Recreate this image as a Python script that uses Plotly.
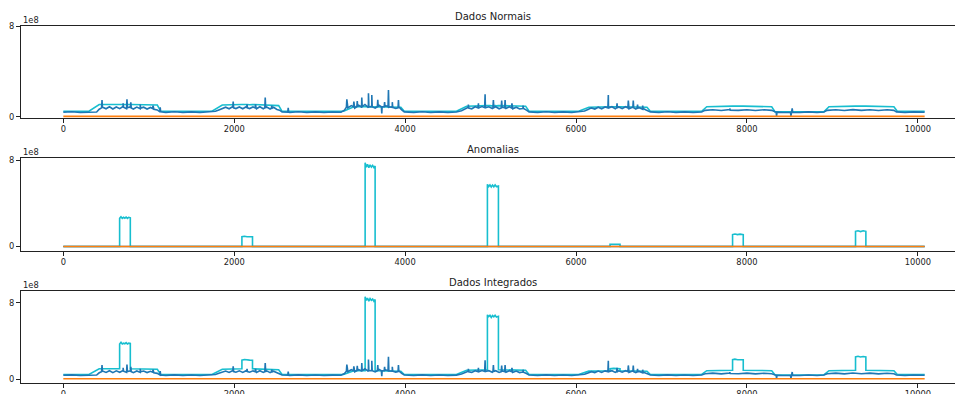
import plotly.graph_objects as go

# ---------------- data (values in units of 1e8) ----------------
cyan_x = [0, 300, 420,
          659, 659, 675, 690, 705, 720, 735, 750, 765, 784, 784,
          1100, 1140, 1740, 1860,
          2090, 2090, 2120, 2150, 2180, 2214, 2214,
          2520, 2560, 3280, 3400,
          3532, 3532, 3545, 3560, 3575, 3590, 3605, 3620, 3635, 3649, 3649,
          3950, 3990, 4600, 4720,
          4963, 4963, 4978, 4993, 5008, 5023, 5038, 5053, 5068, 5092, 5092,
          5410, 5450, 6030, 6150,
          6398, 6398, 6440, 6480, 6515, 6515,
          6830, 6870, 7470, 7530,
          7832, 7832, 7860, 7890, 7920, 7957, 7957,
          8290, 8330, 8900, 8960,
          9271, 9271, 9300, 9330, 9360, 9392, 9392,
          9720, 9760, 10080]

cyan_normal = [0.5, 0.5, 1.1,
               1.1, 1.1, 1.12, 1.1, 1.08, 1.1, 1.12, 1.1, 1.08, 1.1, 1.1,
               1.05, 0.5, 0.5, 1.05,
               1.1, 1.1, 1.12, 1.1, 1.08, 1.1, 1.1,
               1.0, 0.5, 0.5, 0.9,
               0.9, 0.9, 0.92, 0.9, 0.88, 0.9, 0.92, 0.9, 0.88, 0.9, 0.9,
               0.85, 0.5, 0.5, 0.95,
               1.0, 1.0, 1.02, 1.0, 0.98, 1.0, 1.02, 1.0, 0.98, 1.0, 1.0,
               0.95, 0.5, 0.5, 0.85,
               0.9, 0.9, 0.92, 0.9, 0.9, 0.9,
               0.85, 0.5, 0.5, 0.9,
               0.95, 0.95, 0.96, 0.95, 0.94, 0.95, 0.95,
               0.9, 0.45, 0.45, 0.9,
               0.95, 0.95, 0.96, 0.95, 0.94, 0.95, 0.95,
               0.9, 0.5, 0.5]

cyan_anomaly = [0, 0, 0,
                0, 2.6, 2.75, 2.6, 2.7, 2.62, 2.72, 2.6, 2.7, 2.65, 0,
                0, 0, 0, 0,
                0, 0.9, 0.95, 0.9, 0.93, 0.9, 0,
                0, 0, 0, 0,
                0, 7.75, 7.35, 7.6, 7.3, 7.55, 7.35, 7.5, 7.3, 7.45, 0,
                0, 0, 0, 0,
                0, 5.75, 5.55, 5.7, 5.5, 5.68, 5.52, 5.7, 5.55, 5.6, 0,
                0, 0, 0, 0,
                0, 0.2, 0.22, 0.2, 0.2, 0,
                0, 0, 0, 0,
                0, 1.1, 1.15, 1.1, 1.14, 1.1, 0,
                0, 0, 0, 0,
                0, 1.4, 1.45, 1.38, 1.45, 1.4, 0,
                0, 0, 0]

# blue series: slowly varying level (with its visible noise band) ...
blue_base_x = [0, 100, 200, 300, 390,
               420, 460, 500, 540, 580, 620, 660, 700, 740, 780, 820, 860, 900, 940, 980, 1020, 1060, 1100,
               1130, 1200, 1300, 1400, 1500, 1600, 1700,
               1780, 1820, 1860, 1900, 1940, 1980, 2020, 2060, 2100, 2140, 2180, 2220, 2260, 2300, 2340,
               2380, 2420, 2460, 2500, 2530,
               2560, 2650, 2750, 2850, 2950, 3050, 3150, 3250,
               3290, 3330, 3370, 3410, 3450, 3490, 3530, 3570, 3610, 3650, 3690, 3730, 3770, 3810, 3850,
               3890, 3930, 3960,
               3990, 4100, 4200, 4300, 4400, 4500, 4600,
               4660, 4700, 4740, 4780, 4820, 4860, 4900, 4940, 4980, 5020, 5060, 5100, 5140, 5180, 5220,
               5260, 5300, 5340, 5380, 5420,
               5450, 5550, 5650, 5750, 5850, 5950, 6050,
               6100, 6140, 6180, 6220, 6260, 6300, 6340, 6380, 6420, 6460, 6500, 6540, 6580, 6620, 6660,
               6700, 6740, 6780, 6820, 6845,
               6870, 6970, 7070, 7170, 7270, 7370, 7470,
               7510, 7600, 7700, 7800, 7900, 8000, 8100, 8200, 8290,
               8320, 8420, 8520, 8620, 8720, 8820, 8900,
               8940, 9040, 9140, 9240, 9340, 9440, 9540, 9640, 9720,
               9750, 9850, 9950, 10080]
blue_base_y = [0.42, 0.46, 0.39, 0.45, 0.44,
               0.68, 0.86, 0.72, 0.9, 0.7, 0.88, 0.73, 0.92, 0.72, 0.9, 0.7, 0.87, 0.72, 0.86, 0.7, 0.84, 0.68, 0.62,
               0.45, 0.4, 0.46, 0.39, 0.45, 0.4, 0.44,
               0.5, 0.62, 0.74, 0.86, 0.72, 0.9, 0.74, 0.88, 0.72, 0.9, 0.74, 0.88, 0.72, 0.9, 0.72,
               0.88, 0.7, 0.85, 0.66, 0.6,
               0.45, 0.4, 0.46, 0.39, 0.45, 0.4, 0.44, 0.42,
               0.6, 0.8, 1.0, 0.78, 1.05, 0.8, 1.1, 0.82, 1.08, 0.78, 1.05, 0.8, 1.0, 0.78, 0.98,
               0.75, 0.85, 0.62,
               0.45, 0.4, 0.46, 0.39, 0.45, 0.4, 0.44,
               0.55, 0.7, 0.85, 0.72, 0.9, 0.74, 0.92, 0.75, 0.9, 0.74, 0.9, 0.72, 0.88, 0.74, 0.9,
               0.72, 0.86, 0.7, 0.8, 0.6,
               0.45, 0.4, 0.46, 0.39, 0.45, 0.4, 0.44,
               0.52, 0.66, 0.8, 0.7, 0.86, 0.72, 0.88, 0.74, 0.9, 0.72, 0.88, 0.74, 0.9, 0.72, 0.86,
               0.7, 0.82, 0.68, 0.62, 0.55,
               0.45, 0.4, 0.46, 0.39, 0.45, 0.4, 0.44,
               0.58, 0.64, 0.57, 0.65, 0.58, 0.64, 0.57, 0.63, 0.58,
               0.45, 0.4, 0.44, 0.39, 0.45, 0.4, 0.44,
               0.58, 0.64, 0.57, 0.65, 0.58, 0.64, 0.57, 0.63, 0.58,
               0.45, 0.4, 0.45, 0.42]

# ... plus its narrow spikes: position, level around the spike, spike tip
spike_x = [453, 700, 745, 790, 900, 1050, 1134,
           1988, 2150, 2250, 2363, 2440, 2632,
           3318, 3400, 3440, 3493, 3571, 3610, 3680, 3727, 3760, 3805, 3850, 3922,
           4740, 4858, 4936, 5033, 5130, 5170, 5250, 5380,
           6378, 6480, 6612, 6670, 6720, 6780,
           7800, 8347, 8515, 8530]
spike_base = [0.8, 0.85, 0.8, 0.8, 0.78, 0.75, 0.45,
              0.8, 0.8, 0.8, 0.8, 0.78, 0.42,
              0.85, 0.9, 0.9, 0.9, 0.9, 0.9, 0.9, 0.9, 0.9, 0.9, 0.85, 0.8,
              0.78, 0.8, 0.82, 0.82, 0.8, 0.8, 0.8, 0.75,
              0.8, 0.8, 0.8, 0.8, 0.78, 0.75,
              0.6, 0.42, 0.42, 0.42]
spike_tip = [1.5, 1.2, 1.55, 1.3, 1.1, 1.0, 0.85,
             1.35, 1.1, 1.1, 1.7, 1.0, 0.8,
             1.55, 1.35, 1.4, 1.7, 2.08, 1.93, 1.5, 0.32, 1.3, 2.37, 1.3, 1.49,
             1.1, 1.2, 2.0, 1.5, 1.45, 1.5, 1.2, 1.0,
             1.93, 1.2, 1.45, 1.45, 1.1, 1.0,
             0.75, 0.1, 0.1, 0.76]

blue_anom_x = [0, 10080]
blue_anomaly = [0, 0]

orange_x = [0, 10080]
orange_normal = [0.05, 0.05]
orange_anomaly = [0, 0]

assert len(cyan_x) == len(cyan_normal) == len(cyan_anomaly)
assert len(blue_base_x) == len(blue_base_y)
assert len(spike_x) == len(spike_base) == len(spike_tip)

# merge level + spikes into one blue line
pts = list(zip(blue_base_x, blue_base_y))
for sx, sb, st in zip(spike_x, spike_base, spike_tip):
    pts += [(sx - 5, sb), (sx, st), (sx + 5, sb)]
pts.sort(key=lambda p: p[0])
blue_x = [p[0] for p in pts]
blue_normal = [p[1] for p in pts]

cyan_integrated = [n + a for n, a in zip(cyan_normal, cyan_anomaly)]
blue_integrated = blue_normal
orange_integrated = [n + a for n, a in zip(orange_normal, orange_anomaly)]

titles = ["Dados Normais", "Anomalias", "Dados Integrados"]
x_ticks = [0, 2000, 4000, 6000, 8000, 10000]
x_tick_labels = ["0", "2000", "4000", "6000", "8000", "10000"]
y_ticks = [0, 8]
y_tick_labels = ["0", "8"]

# ---------------- figure ----------------
BLUE = "#1f77b4"
CYAN = "#17becf"
ORANGE = "#ff7f0e"
W, H = 955, 394

panels = [
    dict(cyan=(cyan_x, cyan_normal), blue=(blue_x, blue_normal), orange=(orange_x, orange_normal),
         top=26, bottom=118, yr=[-0.09, 8.0]),
    dict(cyan=(cyan_x, cyan_anomaly), blue=(blue_anom_x, blue_anomaly), orange=(orange_x, orange_anomaly),
         top=158, bottom=251, yr=[-0.42, 8.19]),
    dict(cyan=(cyan_x, cyan_integrated), blue=(blue_x, blue_integrated), orange=(orange_x, orange_integrated),
         top=291, bottom=383, yr=[-0.39, 9.25]),
]

fig = go.Figure()
font = dict(family="DejaVu Sans", size=8.3, color="#222222")
x_left = 20.5
for i, p in enumerate(panels):
    suf = "" if i == 0 else str(i + 1)
    xa, ya = "x" + suf, "y" + suf
    for key, col in (("cyan", CYAN), ("blue", BLUE), ("orange", ORANGE)):
        xs, ys = p[key]
        fig.add_trace(go.Scatter(x=xs, y=ys, mode="lines", xaxis=xa, yaxis=ya,
                                 line=dict(color=col, width=1.6), showlegend=False,
                                 hoverinfo="skip"))
    fig.layout["xaxis" + suf] = dict(
        domain=[x_left / W, 1.0], anchor=ya, range=[-501, 10435], automargin=False,
        tickvals=x_ticks, ticktext=x_tick_labels, ticks="outside", ticklen=3.5, tickcolor="#222",
        showline=True, linecolor="#222", linewidth=1, mirror=True,
        showgrid=False, zeroline=False, tickfont=font)
    fig.layout["yaxis" + suf] = dict(
        domain=[(H - p["bottom"]) / H, (H - p["top"]) / H], anchor=xa, range=p["yr"],
        automargin=False,
        tickvals=y_ticks, ticktext=y_tick_labels, ticks="outside", ticklen=3.5,
        tickcolor="#222", showline=True, linecolor="#222", linewidth=1, mirror=False,
        showgrid=False, zeroline=False, tickfont=font)
    fig.add_annotation(text=titles[i], xref="paper", yref="paper",
                       x=493 / W, y=(H - (p["top"] - 9)) / H, showarrow=False,
                       font=dict(family="DejaVu Sans", size=10, color="#222222"),
                       xanchor="center", yanchor="middle")
    fig.add_annotation(text="1e8", xref="paper", yref="paper",
                       x=21 / W, y=(H - (p["top"] - 6)) / H, showarrow=False,
                       font=font, xanchor="left", yanchor="middle")

fig.update_layout(width=W, height=H, margin=dict(l=0, r=0, t=0, b=0, autoexpand=False),
                  plot_bgcolor="white", paper_bgcolor="white", autosize=False)
fig.write_html("out.html", config={"displayModeBar": False},
               post_script="document.body.style.margin='0';document.body.style.overflow='hidden';")
